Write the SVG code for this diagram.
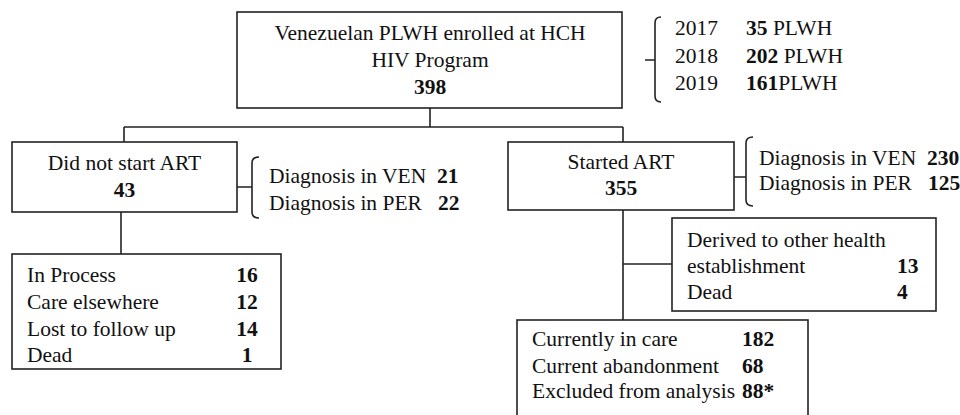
<svg xmlns="http://www.w3.org/2000/svg" width="960" height="415" viewBox="0 0 960 415">
<style>
text{font-family:"Liberation Serif","Times New Roman",serif;font-size:21.5px;fill:#111}
.b{font-weight:bold}
.c{text-anchor:middle}
.box{fill:#fff;stroke:#222;stroke-width:1.6}
.ln{fill:none;stroke:#222;stroke-width:1.6}
</style>
<rect width="960" height="415" fill="#fff"/>
<g id="connectors">
<path class="ln" d="M430 108V127M124 127H623M124 127V142M623 127V142"/>
<path class="ln" d="M121 212V254"/>
<path class="ln" d="M623 210V320M623 264H672"/>
<path class="ln" d="M645 60H655M661 17Q655 17 655 23V96Q655 102 661 102"/>
<path class="ln" d="M237 187H252M259 157Q252 157 252 163V212Q252 218 259 218"/>
<path class="ln" d="M734 177H746M753 137Q746 137 746 143V200Q746 206 753 206"/>
</g>
<g id="enrolled">
<rect class="box" x="237" y="12" width="385" height="96"/>
<text class="c" x="430" y="40">Venezuelan PLWH enrolled at HCH</text>
<text class="c" x="430" y="67">HIV Program</text>
<text class="c b" x="430" y="94">398</text>
</g>
<g id="years">
<text x="675" y="35">2017</text><text x="746" y="35"><tspan class="b">35</tspan> PLWH</text>
<text x="675" y="63">2018</text><text x="746" y="63"><tspan class="b">202</tspan> PLWH</text>
<text x="675" y="90">2019</text><text x="746" y="90"><tspan class="b">161</tspan>PLWH</text>
</g>
<g id="no-art">
<rect class="box" x="12" y="142" width="225" height="70"/>
<text class="c" x="124.5" y="170">Did not start ART</text>
<text class="c b" x="124.5" y="197">43</text>
</g>
<g id="no-art-diag">
<text x="269" y="183">Diagnosis in VEN</text><text class="b" x="437" y="183">21</text>
<text x="269" y="210">Diagnosis in PER</text><text class="b" x="438" y="210">22</text>
</g>
<g id="no-art-outcomes">
<rect class="box" x="12" y="254" width="269" height="115"/>
<text x="27" y="282">In Process</text><text class="b c" x="247" y="282">16</text>
<text x="27" y="309">Care elsewhere</text><text class="b c" x="247" y="309">12</text>
<text x="27" y="336">Lost to follow up</text><text class="b c" x="247" y="336">14</text>
<text x="27" y="362">Dead</text><text class="b c" x="247" y="362">1</text>
</g>
<g id="started-art">
<rect class="box" x="508" y="142" width="226" height="68"/>
<text class="c" x="621" y="169">Started ART</text>
<text class="c b" x="621" y="195">355</text>
</g>
<g id="art-diag">
<text x="759" y="165">Diagnosis in VEN</text><text class="b" x="927" y="165">230</text>
<text x="759" y="190">Diagnosis in PER</text><text class="b" x="928" y="190">125</text>
</g>
<g id="derived">
<rect class="box" x="672" y="218" width="264" height="93"/>
<text x="687" y="247">Derived to other health</text>
<text x="687" y="273">establishment</text><text class="b" x="897" y="273">13</text>
<text x="687" y="299">Dead</text><text class="b" x="897" y="299">4</text>
</g>
<g id="art-outcomes">
<rect class="box" x="517" y="320" width="291" height="110"/>
<text x="532" y="346">Currently in care</text><text class="b" x="742" y="346">182</text>
<text x="532" y="373">Current abandonment</text><text class="b" x="742" y="373">68</text>
<text x="532" y="398">Excluded from analysis</text><text class="b" x="742" y="398">88*</text>
</g>
</svg>
